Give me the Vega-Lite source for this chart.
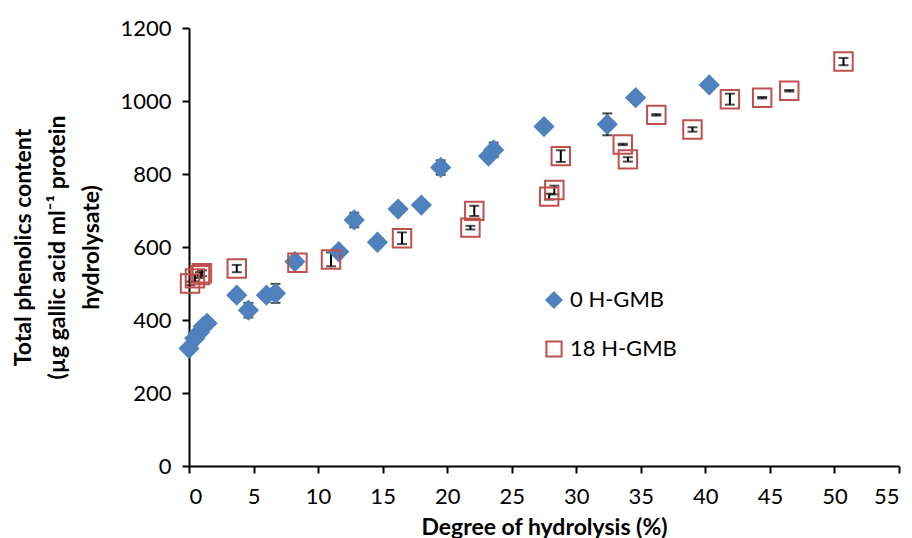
{
  "$schema": "https://vega.github.io/schema/vega-lite/v6.json",
  "width": 710,
  "height": 438,
  "autosize": {"type": "none"},
  "padding": {"left": 189, "top": 28, "right": 13, "bottom": 72},
  "background": "white",
  "config": {
    "view": {"stroke": null},
    "font": "Lato",
    "axis": {
      "domainColor": "black", "domainWidth": 2,
      "tickColor": "black", "tickWidth": 2, "tickSize": 7,
      "labelColor": "black", "labelFont": "Lato", "labelFontSize": 22,
      "titleColor": "black", "titleFont": "Lato", "titleFontSize": 23, "titleFontWeight": "bold",
      "grid": false
    }
  },
  "data": {
    "values": [
      {"series": "0 H-GMB", "dh": 0.0, "tpc": 322, "err": 0},
      {"series": "0 H-GMB", "dh": 0.45, "tpc": 350, "err": 0},
      {"series": "0 H-GMB", "dh": 0.8, "tpc": 366, "err": 0},
      {"series": "0 H-GMB", "dh": 1.1, "tpc": 382, "err": 0},
      {"series": "0 H-GMB", "dh": 1.4, "tpc": 391, "err": 0},
      {"series": "0 H-GMB", "dh": 3.7, "tpc": 468, "err": 0},
      {"series": "0 H-GMB", "dh": 4.6, "tpc": 427, "err": 20},
      {"series": "0 H-GMB", "dh": 6.0, "tpc": 468, "err": 0},
      {"series": "0 H-GMB", "dh": 6.7, "tpc": 473, "err": 26},
      {"series": "0 H-GMB", "dh": 8.2, "tpc": 560, "err": 0},
      {"series": "0 H-GMB", "dh": 11.6, "tpc": 587, "err": 0},
      {"series": "0 H-GMB", "dh": 12.8, "tpc": 674, "err": 20},
      {"series": "0 H-GMB", "dh": 14.6, "tpc": 613, "err": 0},
      {"series": "0 H-GMB", "dh": 16.2, "tpc": 704, "err": 0},
      {"series": "0 H-GMB", "dh": 18.0, "tpc": 715, "err": 0},
      {"series": "0 H-GMB", "dh": 19.5, "tpc": 818, "err": 20},
      {"series": "0 H-GMB", "dh": 23.2, "tpc": 849, "err": 0},
      {"series": "0 H-GMB", "dh": 23.6, "tpc": 866, "err": 20},
      {"series": "0 H-GMB", "dh": 27.5, "tpc": 930, "err": 0},
      {"series": "0 H-GMB", "dh": 32.4, "tpc": 936, "err": 30},
      {"series": "0 H-GMB", "dh": 34.6, "tpc": 1009, "err": 0},
      {"series": "0 H-GMB", "dh": 40.3, "tpc": 1044, "err": 0},
      {"series": "18 H-GMB", "dh": 0.08, "tpc": 500, "err": 5},
      {"series": "18 H-GMB", "dh": 0.46, "tpc": 514, "err": 8},
      {"series": "18 H-GMB", "dh": 0.85, "tpc": 523, "err": 8},
      {"series": "18 H-GMB", "dh": 1.0, "tpc": 528, "err": 8},
      {"series": "18 H-GMB", "dh": 3.7, "tpc": 541, "err": 10},
      {"series": "18 H-GMB", "dh": 8.4, "tpc": 557, "err": 5},
      {"series": "18 H-GMB", "dh": 11.0, "tpc": 566, "err": 19},
      {"series": "18 H-GMB", "dh": 16.5, "tpc": 624, "err": 16},
      {"series": "18 H-GMB", "dh": 21.8, "tpc": 653, "err": 5},
      {"series": "18 H-GMB", "dh": 22.1, "tpc": 699, "err": 14},
      {"series": "18 H-GMB", "dh": 27.9, "tpc": 738, "err": 8},
      {"series": "18 H-GMB", "dh": 28.3, "tpc": 756, "err": 12},
      {"series": "18 H-GMB", "dh": 28.8, "tpc": 849, "err": 16},
      {"series": "18 H-GMB", "dh": 33.6, "tpc": 881, "err": 2},
      {"series": "18 H-GMB", "dh": 34.0, "tpc": 840, "err": 6},
      {"series": "18 H-GMB", "dh": 36.2, "tpc": 962, "err": 2},
      {"series": "18 H-GMB", "dh": 39.0, "tpc": 922, "err": 6},
      {"series": "18 H-GMB", "dh": 41.9, "tpc": 1005, "err": 15},
      {"series": "18 H-GMB", "dh": 44.4, "tpc": 1009, "err": 2},
      {"series": "18 H-GMB", "dh": 46.5, "tpc": 1028, "err": 2},
      {"series": "18 H-GMB", "dh": 50.7, "tpc": 1108, "err": 10}
    ]
  },
  "encoding": {
    "x": {
      "field": "dh", "type": "quantitative",
      "scale": {"domain": [0, 55], "nice": false, "zero": false},
      "axis": {"values": [0,5,10,15,20,25,30,35,40,45,50,55], "title": "Degree of hydrolysis (%)", "titlePadding": 9, "labelPadding": 13}
    },
    "y": {
      "field": "tpc", "type": "quantitative",
      "scale": {"domain": [0, 1200], "nice": false},
      "axis": {
        "values": [0,200,400,600,800,1000,1200], "format": "d",
        "title": ["Total phenolics content", "(µg gallic acid ml⁻¹ protein", "hydrolysate)"],
        "titleLineHeight": 34, "titlePadding": 16, "labelPadding": 11
      }
    }
  },
  "layer": [
    {
      "transform": [{"filter": "datum.err > 0"}],
      "mark": {"type": "errorbar", "color": "black", "thickness": 2, "ticks": {"size": 10, "thickness": 2, "color": "black"}},
      "encoding": {
        "y": {"field": "tpc", "type": "quantitative"},
        "yError": {"field": "err"}
      }
    },
    {
      "mark": {"type": "point", "filled": true, "opacity": 1, "strokeWidth": 2, "size": 340},
      "encoding": {
        "shape": {"field": "series", "type": "nominal", "scale": {"domain": ["0 H-GMB", "18 H-GMB"], "range": ["diamond", "square"]},
          "legend": {"orient": "none", "legendX": 354, "legendY": 261, "title": null, "labelFontSize": 22, "labelFont": "Lato", "labelColor": "black", "symbolSize": 230, "symbolStrokeWidth": 2, "rowPadding": 25, "labelOffset": 5}},
        "fill": {"field": "series", "type": "nominal", "scale": {"domain": ["0 H-GMB", "18 H-GMB"], "range": ["#4F81BD", "transparent"]}},
        "stroke": {"field": "series", "type": "nominal", "scale": {"domain": ["0 H-GMB", "18 H-GMB"], "range": ["#4F81BD", "#C0504D"]}}
      }
    }
  ]
}
